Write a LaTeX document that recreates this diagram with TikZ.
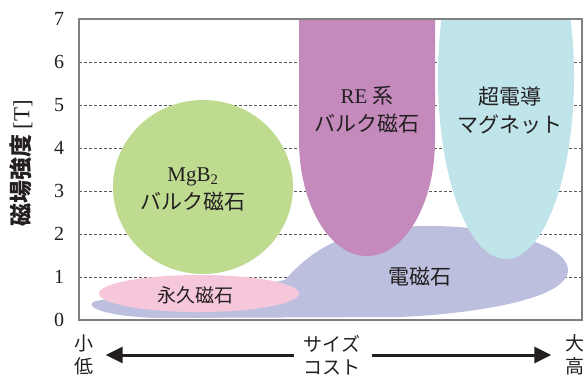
\documentclass[tikz,border=0pt]{standalone}
\usepackage{fontspec}
\setmainfont{Liberation Serif}
\newfontfamily\jp{Noto Sans CJK JP}
\usetikzlibrary{arrows.meta}

\definecolor{bulkgreen}{HTML}{BEDB90}
\definecolor{permpink}{HTML}{F6C7DA}
\definecolor{elecblue}{HTML}{BDBFDF}
\definecolor{rebulk}{HTML}{C48ABC}
\definecolor{supercyan}{HTML}{BFE4EA}
\definecolor{inkgray}{HTML}{231F20}

\begin{document}
\begin{tikzpicture}[x=1pt, y=-1pt]
    \tikzset{grid line/.style={gray!70!black, dash pattern=on 3pt off 2pt, line width=0.8pt},
             frame/.style={gray, line width=1.2pt},
             tick/.style={text=inkgray, font=\fontsize{20}{20}\selectfont},
             label/.style={align=center, text=inkgray, font=\jp\fontsize{21}{28}\selectfont},
             axis end/.style={align=center, text=inkgray, inner sep=3pt, font=\jp\fontsize{19}{22.5}\selectfont},
             size arrow/.style={-{Triangle[length=17pt, width=16pt]}, line width=3pt, inkgray}}

    \useasboundingbox (0,0) rectangle (585,376);

    % grid and ticks
    \foreach \v in {1,...,6}
      \draw[grid line] (79,{320-43*\v}) -- (582,{320-43*\v});
    \foreach \v in {0,...,7}
      \node[tick] (t\v) at (59,{320-43*\v}) {\v};
    \node[rotate=90, text=inkgray, font=\jp\bfseries\fontsize{23}{23}\selectfont] (field) at (21,163) {磁場強度 {\rmfamily\mdseries[T]}};

    % magnet regions
    \begin{scope}
      \clip (79,19) rectangle (582,320);
      \fill[elecblue] (93,302) .. controls (110,295) and (230,292) .. (285,280)
        .. controls (320,240) and (360,226) .. (430,226)
        .. controls (500,226) and (568,245) .. (568,270)
        .. controls (568,300) and (470,314) .. (400,317)
        -- (160,318) .. controls (110,317) and (85,308) .. (93,302) -- cycle;
      \fill[permpink] (199,293.5) ellipse [x radius=100, y radius=18.5];
      \fill[bulkgreen] (203,187) ellipse [x radius=90, y radius=87];
      \fill[rebulk] (299,10) -- (299,140) arc [start angle=180, end angle=0, x radius=68, y radius=116] -- (435,10) -- cycle;
      \fill[supercyan] (506,77) ellipse [x radius=68, y radius=182];
    \end{scope}
    \draw[frame] (79,19) rectangle (582,320);

    \node[label] (mgb) at (193,189) {{\rmfamily MgB\textsubscript{2}}\\バルク磁石};
    \node[label] (re) at (367,110) {{\rmfamily RE} 系\\バルク磁石};
    \node[label] (sc) at (510,110) {超電導\\マグネット};
    \node[label] (em) at (420,277) {電磁石};
    \node[label, font=\jp\fontsize{19}{19}\selectfont] (pm) at (195,295) {永久磁石};

    % size / cost axis
    \node[axis end] (lo) at (84,355) {小\\低};
    \node[axis end] (sz) at (332,355) {サイズ\\コスト};
    \node[axis end] (hi) at (575,355) {大\\高};
    \draw[size arrow, shorten <=6pt, shorten >=9pt] (sz) -- (lo);
    \draw[size arrow, shorten <=8pt, shorten >=11pt] (sz) -- (hi);
\end{tikzpicture}
\end{document}
